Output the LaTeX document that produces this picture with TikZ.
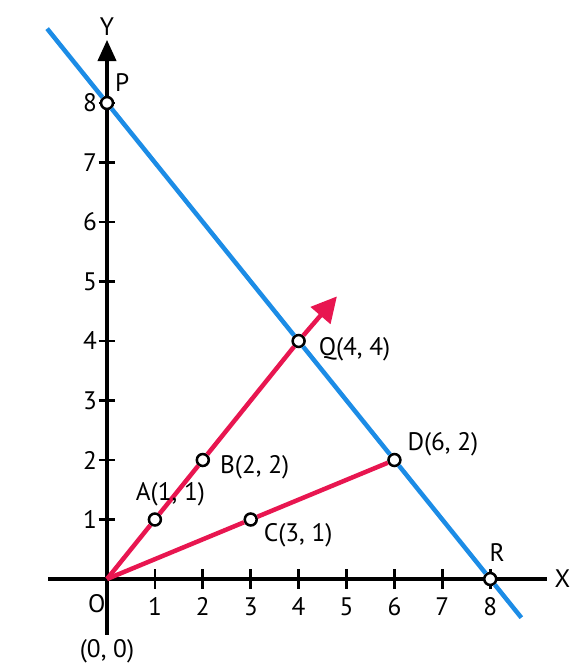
\documentclass[tikz,border=0pt]{standalone}
\usepackage{fontspec}
\setmainfont{PT Sans}
\usetikzlibrary{arrows.meta, positioning}

\definecolor{lineblue}{RGB}{28,140,230}
\definecolor{vecred}{RGB}{232,22,80}

\begin{document}
\begin{tikzpicture}[
    x=1.1975cm, y=1.4875cm,
    font=\fontsize{18}{20}\selectfont,
    axis/.style={line width=2.2pt, color=black},
    tick/.style={line width=2pt},
    vec/.style={line width=3.2pt, color=vecred},
    locus/.style={line width=3.2pt, color=lineblue},
    dot/.style={circle, draw=black, fill=white, line width=1.8pt, inner sep=0pt, minimum size=8.5pt},
    lbl/.style={inner sep=1pt}
]
\useasboundingbox (-2.234,-1.546) rectangle (9.645,9.731);

% axes
\coordinate (xl) at (-1.23,0);
\coordinate (xr) at (9.19,0);
\coordinate (yb) at (0,-0.94);
\coordinate (yt) at (0,9.06);
\draw[axis] (xl) -- (xr);
\draw[axis, -{Triangle[length=15pt, width=13pt]}] (yb) -- (yt);
\node[lbl, right=4pt of xr] (xlab) {X};
\node[lbl, above=2pt of yt] (ylab) {Y};

% ticks and numbers
\foreach \i in {1,...,8} {
    \draw[tick] ([yshift=-7pt]\i,0) -- ([yshift=7pt]\i,0);
    \node[lbl, below=12pt] (xt\i) at (\i,0) {\i};
    \draw[tick] ([xshift=-6pt]0,\i) -- ([xshift=6pt]0,\i);
    \node[lbl, left=6pt] (yt\i) at (0,\i) {\i};
}

% points
\coordinate (O) at (0,0);
\coordinate (T) at (4.8,4.75);
\coordinate (L1) at (-1.25,9.25);
\coordinate (L2) at (8.65,-0.65);
\node[dot] (P) at (0,8) {};
\node[dot] (Q) at (4,4) {};
\node[dot] (R) at (8,0) {};
\node[dot] (A) at (1,1) {};
\node[dot] (B) at (2,2) {};
\node[dot] (C) at (3,1) {};
\node[dot] (D) at (6,2) {};

% lines
\draw[locus] (L1) -- (P) -- (Q) -- (D) -- (R) -- (L2);
\draw[vec] (O) -- (A) -- (B) -- (Q);
\draw[vec, -{Triangle[length=18pt, width=18pt]}] (Q) -- (T);
\draw[vec] (O) -- (C) -- (D);

% labels
\node[lbl, above right=3pt and 1pt of P] (Plab) {P};
\node[lbl, right=8pt of Q, yshift=-6pt] (Qlab) {Q(4, 4)};
\node[lbl, right=3pt of D, yshift=11pt] (Dlab) {D(6, 2)};
\node[lbl, right=3pt of C, yshift=-11pt] (Clab) {C(3, 1)};
\node[lbl, right=6pt of B, yshift=-5pt] (Blab) {B(2, 2)};
\node[lbl, above=3pt of A, xshift=11pt] (Alab) {A(1, 1)};
\node[lbl, above=6pt of R, xshift=5pt] (Rlab) {R};
\node[lbl, below left=10pt and 0pt of O] (Olab) {O};
\node[lbl, below=42pt of O] (orig) {(0, 0)};
\end{tikzpicture}
\end{document}
